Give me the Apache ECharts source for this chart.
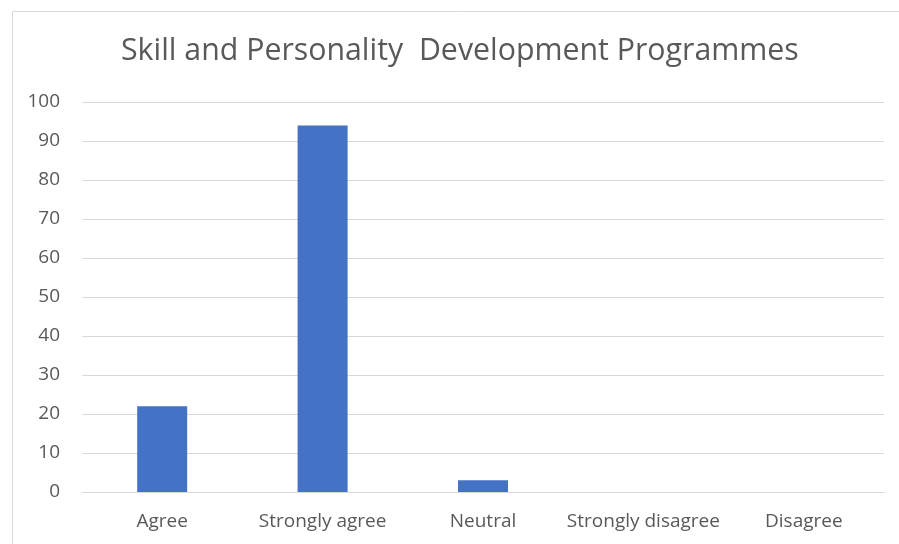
<!DOCTYPE html>
<html><head><meta charset="utf-8">
<script src="https://cdn.jsdelivr.net/npm/echarts@6/dist/echarts.min.js"></script>
<style>html,body{margin:0;padding:0;background:#fff;}#c{width:899px;height:544px;}</style>
</head><body><div id="c"></div>
<script>
const categories = ["Agree", "Strongly agree", "Neutral", "Strongly disagree", "Disagree"];
const values = [22, 94, 3, 0, 0];
const yTicks = [0, 10, 20, 30, 40, 50, 60, 70, 80, 90, 100];
const chartTitle = "Skill and Personality  Development Programmes";

const font = "'Open Sans', 'Liberation Sans', sans-serif";
const chart = echarts.init(document.getElementById('c'));
chart.setOption({
  animation: false,
  graphic: [{
    type: 'rect', left: 10, top: 9,
    shape: { width: 960, height: 600 },
    style: { fill: 'none', stroke: '#d9d9d9', lineWidth: 1 }
  }],
  title: {
    text: chartTitle, left: 116, top: 31,
    textStyle: { fontFamily: font, fontSize: 30.3, fontWeight: 'normal', color: '#595959' }
  },
  grid: { left: 82, right: 15, top: 102, bottom: 52 },
  xAxis: {
    type: 'category', data: categories,
    axisLine: { lineStyle: { color: '#d9d9d9', width: 1 } },
    axisTick: { show: false },
    axisLabel: { interval: 0, fontFamily: font, fontSize: 19, color: '#595959', margin: 20 }
  },
  yAxis: {
    type: 'value', min: yTicks[0], max: yTicks[yTicks.length - 1], interval: 10,
    axisLine: { show: false }, axisTick: { show: false },
    splitLine: { lineStyle: { color: '#d9d9d9', width: 1 } },
    axisLabel: { fontFamily: font, fontSize: 19, color: '#595959', margin: 22 }
  },
  series: [{
    type: 'bar', data: values, barWidth: 50,
    itemStyle: { color: '#4472c4' }
  }]
});
</script></body></html>
